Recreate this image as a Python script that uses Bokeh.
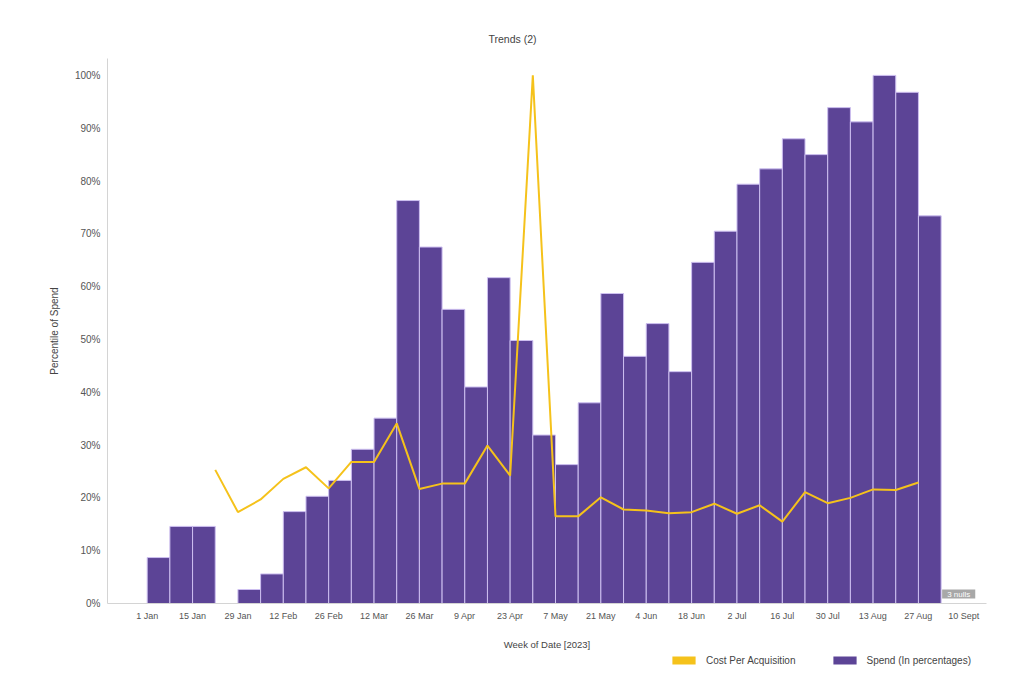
import numpy as np
from bokeh.plotting import figure
from bokeh.layouts import column
from bokeh.models import (ColumnDataSource, FixedTicker, PrintfTickFormatter, Legend,
                          LegendItem, Label, Range1d)
from bokeh.embed import file_html
from bokeh.resources import INLINE

# ---------------- data ----------------
week_labels = ["1 Jan", "8 Jan", "15 Jan", "22 Jan", "29 Jan", "5 Feb", "12 Feb", "19 Feb",
               "26 Feb", "5 Mar", "12 Mar", "19 Mar", "26 Mar", "2 Apr", "9 Apr", "16 Apr",
               "23 Apr", "30 Apr", "7 May", "14 May", "21 May", "28 May", "4 Jun", "11 Jun",
               "18 Jun", "25 Jun", "2 Jul", "9 Jul", "16 Jul", "23 Jul", "30 Jul", "6 Aug",
               "13 Aug", "20 Aug", "27 Aug"]
spend = [8.7, 14.6, 14.6, None, 2.65, 5.6, 17.4, 20.3,
         23.3, 29.2, 35.1, 76.3, 67.5, 55.7, 41.0, 61.7,
         49.8, 31.9, 26.3, 38.0, 58.7, 46.8, 53.0, 43.9,
         64.6, 70.5, 79.4, 82.3, 88.0, 85.0, 93.9, 91.2,
         100.0, 96.8, 73.4]
cost_per_acquisition = [None, None, None, 25.3, 17.3, 19.7, 23.6, 25.8,
                        21.8, 26.8, 26.8, 34.1, 21.7, 22.7, 22.7, 29.9,
                        24.2, 100.0, 16.5, 16.5, 20.1, 17.8, 17.6, 17.1,
                        17.3, 18.9, 17.0, 18.6, 15.5, 21.1, 19.0, 20.0,
                        21.6, 21.5, 22.9]
tick_labels = ["1 Jan", "15 Jan", "29 Jan", "12 Feb", "26 Feb", "12 Mar", "26 Mar", "9 Apr",
               "23 Apr", "7 May", "21 May", "4 Jun", "18 Jun", "2 Jul", "16 Jul", "30 Jul",
               "13 Aug", "27 Aug", "10 Sept"]
y_ticks = [0, 10, 20, 30, 40, 50, 60, 70, 80, 90, 100]
series_names = ["Cost Per Acquisition", "Spend (In percentages)"]
null_note = "3 nulls"

# ---------------- style ----------------
FONT = "Liberation Sans"
PURPLE = "#5C4496"
SEP = "#CDBFF0"
YELLOW = "#F5C21B"
AXIS = "#D4D4D4"
TXT = "#555555"

X0, X1 = -1.75, 37.0
Y0, Y1 = 0.0, 103.2
FW, FH = 879, 545
BL, BR, BT, BB = 107, 22, 58, 44
LEG_H = 35

weeks = np.arange(len(week_labels))
sp = np.array([np.nan if v is None else v for v in spend], dtype=float)
m = ~np.isnan(sp)
bar_src = ColumnDataSource(dict(left=weeks[m], right=weeks[m] + 1, top=sp[m],
                                bottom=np.zeros(int(m.sum())),
                                week=np.array(week_labels)[m]))
cp = np.array([np.nan if v is None else v for v in cost_per_acquisition], dtype=float)
cm = ~np.isnan(cp)
line_src = ColumnDataSource(dict(x=weeks[cm], y=cp[cm], week=np.array(week_labels)[cm]))

p = figure(frame_width=FW, frame_height=FH, x_range=Range1d(X0, X1), y_range=Range1d(Y0, Y1),
           output_backend="svg", toolbar_location=None,
           min_border_left=BL, min_border_right=BR, min_border_top=BT, min_border_bottom=BB,
           title="Trends (2)")
p.outline_line_color = None
p.xgrid.visible = False
p.ygrid.visible = False
p.background_fill_color = "white"
p.border_fill_color = "white"

p.title.align = "left"
p.title.offset = 381
p.title.standoff = 28
p.title.text_font = FONT
p.title.text_font_size = "10.5px"
p.title.text_font_style = "normal"
p.title.text_color = "#444444"

bars = p.quad(left="left", right="right", top="top", bottom="bottom", source=bar_src,
              fill_color=PURPLE, line_color=SEP, line_width=1)
line = p.line("x", "y", source=line_src, line_color=YELLOW, line_width=2)

# axes
xa = p.xaxis[0]
xa.ticker = FixedTicker(ticks=[2 * i for i in range(len(tick_labels))])
xa.major_label_overrides = {2 * i: lab for i, lab in enumerate(tick_labels)}
xa.axis_line_color = AXIS
xa.major_tick_line_color = None
xa.minor_tick_line_color = None
xa.major_label_standoff = 1
xa.major_label_text_font = FONT
xa.major_label_text_font_size = "9px"
xa.major_label_text_color = TXT
xa.axis_label = "Week of Date [2023]"
xa.axis_label_text_font = FONT
xa.axis_label_text_font_size = "9.5px"
xa.axis_label_text_font_style = "normal"
xa.axis_label_text_color = "#444444"
xa.axis_label_standoff = 15

ya = p.yaxis[0]
ya.ticker = FixedTicker(ticks=y_ticks)
ya.formatter = PrintfTickFormatter(format="%d%%")
ya.axis_line_color = AXIS
ya.major_tick_line_color = None
ya.minor_tick_line_color = None
ya.major_label_standoff = 1
ya.major_label_text_font = FONT
ya.major_label_text_font_size = "10px"
ya.major_label_text_color = TXT
ya.axis_label = "Percentile of Spend"
ya.axis_label_text_font = FONT
ya.axis_label_text_font_size = "10px"
ya.axis_label_text_font_style = "normal"
ya.axis_label_text_color = "#444444"
ya.axis_label_standoff = 12

# null indicator
p.add_layout(Label(x=len(week_labels), y=0, x_offset=1, y_offset=5, text=null_note,
                   text_font=FONT, text_font_size="8px", text_color="white",
                   text_baseline="bottom", text_align="left",
                   background_fill_color="#A8A8A8",
                   padding=dict(left=5, right=5, top=0, bottom=0)))

# ---------------- legend strip ----------------
TOTAL_W = BL + FW + BR
q = figure(width=TOTAL_W, height=LEG_H, x_range=Range1d(0, 1), y_range=Range1d(0, 1),
           output_backend="svg", toolbar_location=None,
           x_axis_location=None, y_axis_location=None,
           min_border_left=0, min_border_right=0, min_border_top=0, min_border_bottom=0)
q.outline_line_color = None
q.xgrid.visible = False
q.ygrid.visible = False
key_src = ColumnDataSource(dict(left=[np.nan], right=[np.nan], top=[np.nan], bottom=[np.nan]))
cpa_key = q.quad(left="left", right="right", top="top", bottom="bottom", source=key_src,
                 fill_color=YELLOW, line_color=None)
spend_key = q.quad(left="left", right="right", top="top", bottom="bottom", source=key_src,
                   fill_color=PURPLE, line_color=None)
legend = Legend(items=[LegendItem(label=series_names[0], renderers=[cpa_key]),
                       LegendItem(label=series_names[1], renderers=[spend_key])],
                orientation="horizontal", location=(562, 21),
                glyph_width=29, glyph_height=10, label_height=12, label_standoff=8, spacing=34,
                padding=0, margin=0, border_line_color=None, background_fill_alpha=0,
                label_text_font=FONT, label_text_font_size="10px", label_text_color="#444444")
q.add_layout(legend)

layout = column(p, q, spacing=0)
open("out.html", "w").write(file_html(layout, INLINE))
